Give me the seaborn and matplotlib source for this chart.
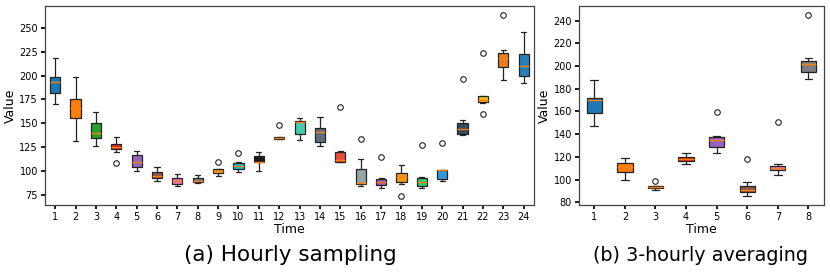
import numpy as np
import pandas as pd
import seaborn as sns
import matplotlib.pyplot as plt

nan = np.nan

# (a) hourly sampling: box summary
hours = list(range(1, 25))
whislo_a = [170, 131, 126, 120, 100, 89, 84, 87, 95, 99, 100, 133, 132, 126, 109.3, 84.2, 82.5, 86.7, 82.5, 89, 137.2, 171.3, 195, 192]
q1_a = [182, 155, 134.4, 122.5, 104, 92.2, 86, 88, 97.8, 102.4, 109, 133, 139, 130.6, 109.3, 86.3, 85, 88.5, 84.2, 91.2, 139, 172.4, 209, 199.6]
med_a = [193, 166, 139.6, 125.4, 109.7, 94.6, 89.1, 89.8, 99.9, 105.5, 109.5, 134.4, 151.5, 140.6, 111, 87, 88.4, 93.6, 88.8, 101, 143.4, 174, 218.4, 210]
q3_a = [198, 175, 150.4, 128, 116.3, 98.8, 92.2, 92, 101.6, 108.6, 116, 135.8, 152.1, 144.8, 119.7, 102.4, 91.9, 98, 92.2, 101, 150.4, 178.2, 223.6, 222.5]
whishi_a = [218, 198, 162, 135, 120.8, 104, 97, 95.7, 102.4, 109.3, 119.7, 135.8, 155, 156, 120.8, 112, 93, 105.8, 93.6, 101, 153, 178.2, 226.3, 246]
flier_lo_a = [nan, nan, nan, 108, nan, nan, nan, nan, nan, nan, nan, nan, nan, nan, nan, nan, nan, 73.5, nan, nan, nan, 160, nan, nan]
flier_hi_a = [nan, nan, nan, nan, nan, nan, nan, nan, 109.7, 118.4, nan, 148, nan, nan, 167, 133, 114, nan, 127, 129.5, 196, 224, 263, nan]

# (b) 3-hourly averaging
blocks = list(range(1, 9))
whislo_b = [147.4, 99.3, 91.2, 114, 123, 85.6, 104.4, 188.7]
q1_b = [158.6, 107, 92.3, 116.4, 128.7, 88.8, 108.5, 194.3]
med_b = [170, 111, 93.5, 118.2, 134.8, 91.2, 110.2, 201.7]
q3_b = [171.8, 114.9, 94.4, 119.9, 137.5, 94.4, 112, 204.8]
whishi_b = [187.9, 118.7, 94.7, 123, 138.6, 98.2, 113.4, 207.2]
flier_lo_b = [nan] * 8
flier_hi_b = [nan, nan, 98.8, nan, 159.5, 118.2, 151, 244.7]

palette_a = ['#1f77b4', '#ff7f0e', '#2ca02c', '#d62728', '#9467bd', '#8c564b', '#e377c2', '#7f7f7f',
             '#f0b70f', '#17becf', '#1a1a1a', '#cc4a1c', '#48c9b0', '#5d6d7e', '#e74c3c', '#95a5a6',
             '#9b59b6', '#f39c12', '#2ecc71', '#3498db', '#34495e', '#f1c40f', '#e67e22', '#2980b9']
palette_b = ['#1f77b4', '#ff7f0e', '#2ca02c', '#d62728', '#9467bd', '#8c564b', '#e377c2', '#7f7f7f']


def build_samples(times, lo, q1, med, q3, hi, flo, fhi):
    # 9 points per box so that the quartiles land exactly on the read values
    rows = []
    for i, t in enumerate(times):
        first = lo[i] if np.isnan(flo[i]) else flo[i]
        last = hi[i] if np.isnan(fhi[i]) else fhi[i]
        for v in [first, lo[i], q1[i], q1[i], med[i], q3[i], q3[i], hi[i], last]:
            rows.append({'Time': t, 'Value': v})
    return pd.DataFrame(rows)


def draw_box(ax, df, palette):
    sns.boxplot(data=df, x='Time', y='Value', hue='Time', palette=palette, legend=False,
                width=0.5, saturation=1, linecolor='#222222', linewidth=0.9, ax=ax,
                medianprops={'color': '#ff7f0e', 'linewidth': 1},
                flierprops={'marker': 'o', 'markerfacecolor': 'none', 'markeredgecolor': '#222222',
                            'markersize': 4, 'markeredgewidth': 0.8})
    ax.set_xlabel('Time', fontsize=9, labelpad=1)
    ax.set_ylabel('Value', fontsize=9, labelpad=2)
    ax.tick_params(labelsize=7, length=3, pad=2, colors='black')
    for s in ax.spines.values():
        s.set_color('#444444')
        s.set_linewidth(0.9)


sns.set_theme(style='ticks')
plt.rcParams['font.family'] = ['DejaVu Sans']
plt.rcParams['text.color'] = 'black'
plt.rcParams['axes.labelcolor'] = 'black'

df_a = build_samples(hours, whislo_a, q1_a, med_a, q3_a, whishi_a, flier_lo_a, flier_hi_a)
df_b = build_samples(blocks, whislo_b, q1_b, med_b, q3_b, whishi_b, flier_lo_b, flier_hi_b)

fig = plt.figure(figsize=(8.3, 2.77), dpi=100)
ax_a = fig.add_axes([0.0542, 0.26, 0.589, 0.718])
ax_b = fig.add_axes([0.6976, 0.26, 0.2948, 0.718])

draw_box(ax_a, df_a, palette_a)
draw_box(ax_b, df_b, palette_b)
ax_a.set_yticks([75, 100, 125, 150, 175, 200, 225, 250])
ax_a.set_ylim(64.2, 272.8)
ax_b.set_yticks([80, 100, 120, 140, 160, 180, 200, 220, 240])
ax_b.set_ylim(77.6, 252.7)

fig.text(0.35, 0.079, '(a) Hourly sampling', ha='center', va='center', fontsize=15.5)
fig.text(0.844, 0.079, '(b) 3-hourly averaging', ha='center', va='center', fontsize=13.8)

fig.savefig('out.png', dpi=100)
